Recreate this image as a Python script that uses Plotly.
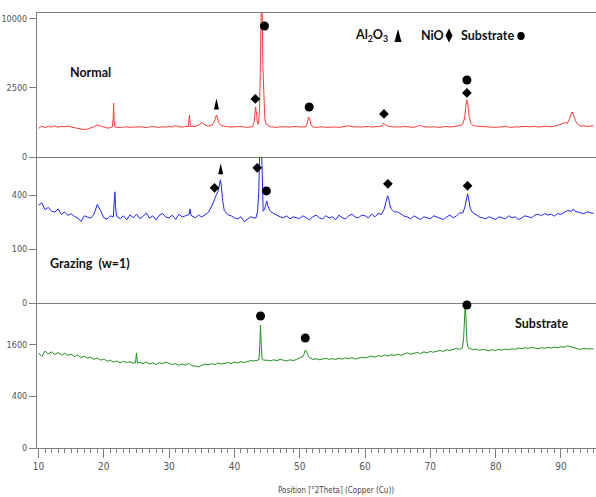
import math
import plotly.graph_objects as go
from plotly.subplots import make_subplots

# ---------------- data (intensity, counts) ----------------
BASE_X = [10 + 0.5 * i for i in range(171)]  # 10.0 ... 95.0 deg 2theta

NORMAL_BASE = [
    430, 500, 455, 490, 470, 510, 460, 495, 480, 505,
    470, 450, 420, 400, 395, 410, 440, 480, 540, 500,
    460, 440, 450, 470, 460, 450, 470, 480, 460, 470,
    460, 480, 470, 450, 475, 490, 470, 460, 480, 470,
    490, 470, 520, 480, 470, 490, 480, 470, 490, 530,
    620, 540, 500, 540, 600, 560, 520, 490, 480, 470,
    480, 470, 490, 470, 460, 480, 490, 520, 560, 700,
    500, 480, 470, 460, 480, 470, 460, 470, 480, 490,
    470, 480, 490, 500, 470, 460, 470, 480, 460, 470,
    480, 470, 460, 470, 490, 510, 480, 470, 460, 470,
    480, 490, 470, 480, 500, 520, 560, 500, 480, 470,
    480, 470, 490, 480, 470, 460, 500, 520, 480, 470,
    470, 480, 470, 460, 480, 490, 470, 480, 500, 520,
    600, 1500, 700, 540, 500, 490, 480, 470, 480, 470,
    460, 470, 480, 490, 470, 460, 480, 470, 490, 480,
    470, 480, 490, 470, 480, 500, 490, 480, 500, 520,
    560, 620, 900, 640, 560, 520, 500, 510, 490, 500,
    510,
]
NORMAL_PEAK_X = [
    21.3, 21.42, 21.5, 21.58, 21.7,
    32.95, 33.05, 33.12, 33.2, 33.3,
    36.6, 36.9, 37.1, 37.25, 37.4, 37.6, 37.9,
    42.8, 43.0, 43.15, 43.25, 43.4, 43.55, 43.7, 43.85, 43.95, 44.05, 44.15,
    44.25, 44.35, 44.5, 44.65, 44.85,
    50.95, 51.15, 51.35, 51.5, 51.7, 51.95,
    62.6, 62.85, 63.1,
    74.95, 75.25, 75.45, 75.6, 75.75, 75.95, 76.2, 76.45,
    91.0, 91.3, 91.55, 91.7, 91.85, 92.1, 92.4,
]
NORMAL_PEAK_Y = [
    470, 750, 1530, 720, 480,
    480, 650, 925, 640, 490,
    540, 650, 850, 925, 800, 620, 520,
    500, 620, 1000, 1313, 900, 560, 600, 1200, 3500, 9000, 15000,
    13000, 4500, 1500, 800, 560,
    480, 600, 840, 780, 560, 480,
    500, 610, 540,
    560, 800, 1400, 1706, 1450, 850, 600, 530,
    600, 750, 1000, 1063, 980, 750, 600,
]

GRAZING_BASE = [
    330, 345, 300, 315, 290, 285, 305, 270, 285, 265,
    275, 258, 250, 228, 262, 255, 248, 272, 335, 295,
    250, 242, 262, 255, 250, 245, 262, 238, 268, 250,
    272, 245, 258, 280, 248, 262, 238, 266, 276, 254,
    250, 266, 240, 272, 255, 262, 290, 262, 250, 266,
    255, 266, 282, 320, 390, 430, 500, 340, 268, 262,
    250, 244, 256, 228, 240, 256, 250, 250, 700, 290,
    312, 290, 276, 264, 256, 250, 262, 244, 256, 250,
    246, 262, 250, 238, 256, 266, 250, 244, 262, 250,
    256, 240, 266, 250, 244, 262, 272, 254, 250, 266,
    262, 250, 272, 255, 276, 270, 330, 340, 300, 285,
    286, 270, 260, 255, 244, 262, 250, 240, 256, 250,
    244, 262, 255, 250, 240, 256, 266, 250, 262, 280,
    290, 380, 320, 272, 266, 255, 250, 244, 256, 250,
    240, 256, 250, 244, 262, 250, 256, 240, 250, 262,
    256, 250, 266, 272, 262, 276, 266, 272, 260, 276,
    270, 282, 295, 300, 300, 286, 280, 275, 286, 280,
    276,
]
GRAZING_PEAK_X = [
    21.45, 21.6, 21.7, 21.8, 21.95,
    33.05, 33.2, 33.35,
    36.6, 36.9, 37.2, 37.5, 37.7, 37.85, 38.0, 38.2, 38.45,
    43.3, 43.55, 43.75, 43.9, 44.0, 44.1, 44.25, 44.4, 44.6, 44.8, 44.95, 45.15,
    62.9, 63.15, 63.45, 63.65, 63.9, 64.15,
    75.0, 75.3, 75.55, 75.7, 75.85, 76.1, 76.4,
    91.65, 91.9, 92.15,
]
GRAZING_PEAK_Y = [
    255, 330, 426, 320, 260,
    270, 305, 265,
    330, 370, 400, 430, 480, 523, 470, 360, 295,
    250, 290, 450, 900, 1000, 900, 600, 290, 300, 345, 359, 320,
    300, 340, 396, 370, 310, 300,
    280, 320, 390, 411, 380, 310, 285,
    290, 305, 290,
]

SUBSTRATE_BASE = [
    1350, 1250, 1400, 1320, 1380, 1300, 1360, 1290, 1340, 1280,
    1310, 1250, 1290, 1220, 1260, 1200, 1230, 1170, 1210, 1150,
    1180, 1120, 1150, 1100, 1130, 1080, 1120, 1090, 1110, 1070,
    1090, 1090, 1060, 1100, 1050, 1080, 1040, 1090, 1060, 1100,
    1070, 1040, 1060, 1020, 1050, 1030, 1070, 1010, 1000, 980,
    1020, 1050, 1030, 1060, 1040, 1080, 1050, 1070, 1090, 1060,
    1100, 1080, 1110, 1090, 1120, 1140, 1130, 1160, 1500, 1150,
    1150, 1130, 1160, 1140, 1170, 1150, 1130, 1160, 1140, 1170,
    1200, 1250, 1380, 1200, 1170, 1190, 1160, 1180, 1200, 1170,
    1190, 1170, 1200, 1180, 1210, 1190, 1220, 1180, 1200, 1230,
    1210, 1240, 1260, 1230, 1270, 1250, 1290, 1260, 1300, 1280,
    1310, 1280, 1320, 1350, 1310, 1340, 1360, 1330, 1380, 1350,
    1390, 1370, 1400, 1420, 1390, 1440, 1420, 1460, 1480, 1450,
    1500, 1500, 1490, 1440, 1460, 1420, 1450, 1430, 1410, 1440,
    1420, 1450, 1430, 1460, 1440, 1470, 1450, 1490, 1470, 1500,
    1480, 1510, 1490, 1470, 1500, 1480, 1510, 1490, 1520, 1500,
    1530, 1510, 1560, 1540, 1500, 1470, 1450, 1480, 1460, 1470,
    1460,
]
SUBSTRATE_PEAK_X = [
    24.85, 25.0, 25.15,
    43.75, 43.9, 44.0, 44.1, 44.25,
    50.5, 50.7, 50.85, 51.0, 51.2, 51.45,
    74.9, 75.1, 75.25, 75.35, 75.45, 75.6, 75.8,
]
SUBSTRATE_PEAK_Y = [
    1080, 1345, 1070,
    1160, 1600, 2255, 1600, 1170,
    1250, 1330, 1432, 1400, 1300, 1220,
    1490, 1800, 2800, 3100, 2600, 1700, 1500,
]

# phase markers (position, intensity level of the marker)
NORMAL_MARK_X = [43.2, 44.6, 51.45, 62.9, 75.6, 75.6]
NORMAL_MARK_Y = [1766, 9010, 1313, 971, 2151, 3113]
NORMAL_MARK_S = ["diamond", "circle", "circle", "diamond", "diamond", "circle"]
NORMAL_TRI_X = [37.25]
NORMAL_TRI_Y = [1475]

GRAZING_MARK_X = [36.95, 43.5, 44.9, 63.5, 75.7]
GRAZING_MARK_Y = [457, 630, 433, 489, 473]
GRAZING_MARK_S = ["diamond", "diamond", "circle", "diamond", "diamond"]
GRAZING_TRI_X = [37.9]
GRAZING_TRI_Y = [620]

SUBSTRATE_MARK_X = [44.0, 50.85, 75.6]
SUBSTRATE_MARK_Y = [2597, 1804, 3048]
SUBSTRATE_MARK_S = ["circle", "circle", "circle"]

# y tick labels per panel (square-root intensity scale)
NORMAL_TICKS = [0, 2500, 10000]
GRAZING_TICKS = [0, 100, 400]
SUBSTRATE_TICKS = [0, 400, 1600]

X_TICKS = [10, 20, 30, 40, 50, 60, 70, 80, 90]

# ---------------- helpers ----------------
def merge(base, px, py):
    pts = [(x, y) for x, y in zip(BASE_X, base) if min(abs(x - p) for p in px) > 0.21]
    pts += list(zip(px, py))
    pts.sort()
    return [p[0] for p in pts], [math.sqrt(p[1]) for p in pts]


def sq(vals):
    return [math.sqrt(v) for v in vals]


GRAY = "#808080"
TICKFONT = dict(family="Liberation Sans Narrow, Arial Narrow, DejaVu Sans Condensed, sans-serif",
                size=9, color="#555555")
LABELFONT = dict(family="Lato, Carlito, Open Sans, sans-serif", size=12.5, color="#111111")

W, H = 596, 497
ML, MR, MT, MB = 37, 0, 13, 49
PW, PH = W - ML - MR, H - MT - MB


def pp(px, py):
    return (px - ML) / PW, (H - MB - py) / PH


fig = make_subplots(rows=3, cols=1, shared_xaxes=True, vertical_spacing=0,
                    row_heights=[144, 146, 145])

series = [
    (NORMAL_BASE, NORMAL_PEAK_X, NORMAL_PEAK_Y, "#ff3b3b"),
    (GRAZING_BASE, GRAZING_PEAK_X, GRAZING_PEAK_Y, "#2424ff"),
    (SUBSTRATE_BASE, SUBSTRATE_PEAK_X, SUBSTRATE_PEAK_Y, "#1f8f1f"),
]
for i, (b, px, py, c) in enumerate(series, start=1):
    xs, ys = merge(b, px, py)
    fig.add_trace(go.Scatter(x=xs, y=ys, mode="lines", line=dict(color=c, width=1),
                             hoverinfo="skip"), row=i, col=1)

marks = [
    (NORMAL_MARK_X, NORMAL_MARK_Y, NORMAL_MARK_S),
    (GRAZING_MARK_X, GRAZING_MARK_Y, GRAZING_MARK_S),
    (SUBSTRATE_MARK_X, SUBSTRATE_MARK_Y, SUBSTRATE_MARK_S),
]
for i, (mx, my, ms) in enumerate(marks, start=1):
    fig.add_trace(go.Scatter(
        x=mx, y=sq(my), mode="markers", cliponaxis=False,
        marker=dict(symbol=ms, color="black", opacity=1,
                    size=[9 if s == "circle" else 7.5 for s in ms], line=dict(width=0))),
        row=i, col=1)

TRI_PATH = "M-2.5,-5.5 L2.5,-5.5 L0,5.5 Z"
shapes = []
for tx, ty, xr, yr in [(NORMAL_TRI_X, NORMAL_TRI_Y, "x", "y"),
                       (GRAZING_TRI_X, GRAZING_TRI_Y, "x2", "y2")]:
    for x, y in zip(tx, ty):
        shapes.append(dict(type="path", xref=xr, yref=yr, xsizemode="pixel", ysizemode="pixel",
                           xanchor=x, yanchor=math.sqrt(y), path=TRI_PATH,
                           fillcolor="black", line=dict(width=0)))

# legend glyphs
lx, ly = pp(398, 35.5)
shapes.append(dict(type="path", xref="paper", yref="paper", xsizemode="pixel", ysizemode="pixel",
                   xanchor=lx, yanchor=ly, path="M-3.5,-6.5 L3.5,-6.5 L0,6.5 Z",
                   fillcolor="black", line=dict(width=0)))
lx, ly = pp(449, 35.5)
shapes.append(dict(type="path", xref="paper", yref="paper", xsizemode="pixel", ysizemode="pixel",
                   xanchor=lx, yanchor=ly, path="M0,7 L3.5,0 L0,-7 L-3.5,0 Z",
                   fillcolor="black", line=dict(width=0)))
lx, ly = pp(521, 36)
shapes.append(dict(type="circle", xref="paper", yref="paper", xsizemode="pixel", ysizemode="pixel",
                   xanchor=lx, yanchor=ly, x0=-3.7, x1=3.7, y0=-4, y1=4,
                   fillcolor="black", line=dict(width=0)))

annotations = []
for text, px_, py_ in [("Normal", 68, 72), ("Grazing\u00a0\u00a0(w=1)", 48, 263),
                       ("Substrate", 513, 323), ("Al<sub>2</sub>O<sub>3</sub>", 353, 35),
                       ("NiO", 419, 35), ("Substrate", 459, 35)]:
    ax, ay = pp(px_, py_)
    annotations.append(dict(text="<b>" + text + "</b>", x=ax, y=ay, xref="paper", yref="paper",
                            xanchor="left", yanchor="middle", showarrow=False, font=LABELFONT))
ax, ay = pp(336, 490)
annotations.append(dict(text="Position [°2Theta] (Copper (Cu))", x=ax, y=ay, xref="paper",
                        yref="paper", xanchor="center", yanchor="middle", showarrow=False,
                        font=dict(family=TICKFONT["family"], size=8, color="#444444")))

XR = [9.77, 95.37]
common_x = dict(range=XR, showgrid=False, zeroline=False, showline=True, linecolor=GRAY,
                linewidth=1)
fig.update_xaxes(**common_x)
fig.update_xaxes(mirror=True, ticks="", showticklabels=False, row=1, col=1)
fig.update_xaxes(ticks="", showticklabels=False, row=2, col=1)
fig.update_xaxes(ticks="outside", ticklen=9, tickcolor=GRAY, tickwidth=1, tickvals=X_TICKS,
                 showticklabels=True, tickfont=dict(TICKFONT, size=10),
                 minor=dict(dtick=1, tick0=10, ticks="outside", ticklen=4, tickcolor=GRAY,
                            tickwidth=1),
                 row=3, col=1)

for i, (ticks, top) in enumerate([(NORMAL_TICKS, 104.3), (GRAZING_TICKS, 27.1),
                                  (SUBSTRATE_TICKS, 56.0)], start=1):
    fig.update_yaxes(range=[0, top], tickvals=sq(ticks), ticktext=[str(t) for t in ticks],
                     ticks="outside", ticklen=7, tickcolor=GRAY, tickwidth=1,
                     showline=True, linecolor=GRAY, linewidth=1, showgrid=False,
                     zeroline=False, tickfont=TICKFONT, row=i, col=1)

fig.update_layout(width=W, height=H, margin=dict(l=ML, r=MR, t=MT, b=MB),
                  paper_bgcolor="white", plot_bgcolor="white", showlegend=False,
                  shapes=shapes, annotations=annotations)

fig.write_html("out.html")
